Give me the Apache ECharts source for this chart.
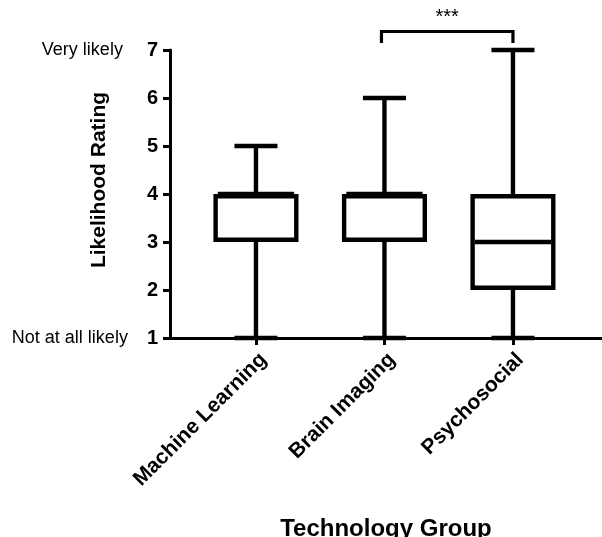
<!DOCTYPE html>
<html><head><meta charset="utf-8">
<script src="https://cdn.jsdelivr.net/npm/echarts@6/dist/echarts.min.js"></script>
<style>html,body{margin:0;padding:0;background:#fff}#c{width:602px;height:537px}</style>
</head><body><div id="c"></div>
<script>
// ---- data ----
const categories = ['Machine Learning', 'Brain Imaging', 'Psychosocial'];
const whiskerLow = [1, 1, 1];
const q1 = [3, 3, 2];
const median = [4, 4, 3];
const q3 = [4, 4, 4];
const whiskerHigh = [5, 6, 7];
const yTicks = [1, 2, 3, 4, 5, 6, 7];
const yEndLabels = { 1: 'Not at all likely', 7: 'Very likely' };
const sigPair = [2, 3];          // Brain Imaging vs Psychosocial (1-based group positions)
const sigText = '***';
const xTitle = 'Technology Group';
const yTitle = 'Likelihood Rating';

const FONT = "'Liberation Sans', Arial, sans-serif";
const catPos = categories.map((c, i) => i + 1);
const boxData = categories.map((c, i) => [i + 1, whiskerLow[i], q1[i], median[i], q3[i], whiskerHigh[i]]);

function renderBox(params, api) {
  const x = api.value(0);
  const lo = api.coord([x, api.value(1)]);
  const a = api.coord([x, api.value(2)]);
  const m = api.coord([x, api.value(3)]);
  const b = api.coord([x, api.value(4)]);
  const hi = api.coord([x, api.value(5)]);
  const half = api.size([0.662, 0])[0] / 2;
  const capHalf = api.size([0.335, 0])[0] / 2;
  const lw = 4.4;
  const cx = lo[0];
  const st = { stroke: '#000', lineWidth: lw, fill: null };
  return {
    type: 'group', children: [
      { type: 'line', shape: { x1: cx, y1: lo[1], x2: cx, y2: a[1] }, style: st },
      { type: 'line', shape: { x1: cx, y1: b[1], x2: cx, y2: hi[1] }, style: st },
      { type: 'line', shape: { x1: cx - capHalf, y1: lo[1], x2: cx + capHalf, y2: lo[1] }, style: st },
      { type: 'line', shape: { x1: cx - capHalf, y1: hi[1], x2: cx + capHalf, y2: hi[1] }, style: st },
      { type: 'rect', shape: { x: cx - half + lw / 2, y: b[1] + lw / 2, width: 2 * half - lw, height: a[1] - b[1] - lw },
        style: { stroke: '#000', lineWidth: lw, fill: '#fff' } },
      { type: 'line', shape: { x1: cx - half + lw, y1: m[1], x2: cx + half - lw, y2: m[1] }, style: st }
    ]
  };
}

function renderSig(params, api) {
  const x1 = api.value(0), x2 = api.value(1);
  const top = Math.max(whiskerHigh[x1 - 1], whiskerHigh[x2 - 1]);
  const p1 = api.coord([x1, top]);
  const p2 = api.coord([x2, top]);
  const yb = p1[1] - 18.5;
  const leg = 11.5;
  const l = p1[0] - 3, r = p2[0];
  return {
    type: 'group', children: [
      { type: 'polyline', shape: { points: [[l, yb + leg], [l, yb], [r, yb], [r, yb + leg]] },
        style: { stroke: '#000', lineWidth: 3.2, fill: null } },
      { type: 'text', style: { text: sigText, x: (l + r) / 2, y: yb - 14, align: 'center', verticalAlign: 'middle',
        fontSize: 20, fontFamily: FONT, fill: '#000' } }
    ]
  };
}

const chart = echarts.init(document.getElementById('c'));
chart.setOption({
  animation: false,
  backgroundColor: '#fff',
  textStyle: { fontFamily: FONT, color: '#000' },
  grid: { left: 170, right: 0, top: 50, bottom: 199, containLabel: false, outerBoundsMode: 'none' },
  xAxis: {
    type: 'value', min: 0.331, max: 3.693,
    axisLine: { show: true, onZero: false, lineStyle: { color: '#000', width: 3 } },
    axisTick: { show: true, length: 7, customValues: catPos, lineStyle: { color: '#000', width: 3 } },
    axisLabel: { customValues: catPos, rotate: 45, margin: 11, verticalAlign: 'top',
      formatter: v => categories[Math.round(v) - 1],
      fontSize: 21, fontWeight: 'bold', color: '#000', fontFamily: FONT },
    splitLine: { show: false },
    name: xTitle, nameLocation: 'middle', nameGap: 179, nameMoveOverlap: false,
    nameTextStyle: { fontSize: 24, fontWeight: 'bold', color: '#000', fontFamily: FONT }
  },
  yAxis: {
    type: 'value', min: yTicks[0], max: yTicks[yTicks.length - 1], interval: 1,
    axisLine: { show: true, onZero: false, lineStyle: { color: '#000', width: 3 } },
    axisTick: { show: true, length: 7, lineStyle: { color: '#000', width: 3 } },
    splitLine: { show: false },
    axisLabel: {
      margin: 12,
      formatter: v => yEndLabels[v] ? `{d${v}|${yEndLabels[v]}}{n|${v}}` : `{n|${v}}`,
      rich: {
        n: { fontSize: 20, fontWeight: 'bold', color: '#000', fontFamily: FONT, verticalAlign: 'middle' },
        d7: { fontSize: 18, color: '#000', fontFamily: FONT, padding: [0, 24, 0, 0], verticalAlign: 'middle' },
        d1: { fontSize: 18, color: '#000', fontFamily: FONT, padding: [0, 19, 0, 0], verticalAlign: 'middle' }
      }
    },
    name: yTitle, nameLocation: 'middle', nameGap: 60, nameMoveOverlap: false,
    nameTextStyle: { fontSize: 21, fontWeight: 'bold', color: '#000', fontFamily: FONT, padding: [0, 0, 0, 28] }
  },
  series: [
    { type: 'custom', renderItem: renderBox, data: boxData, clip: false, encode: { x: 0, y: [1, 2, 3, 4, 5] } },
    { type: 'custom', renderItem: renderSig, data: [sigPair], clip: false, encode: { x: [0, 1] } }
  ]
});
</script></body></html>
